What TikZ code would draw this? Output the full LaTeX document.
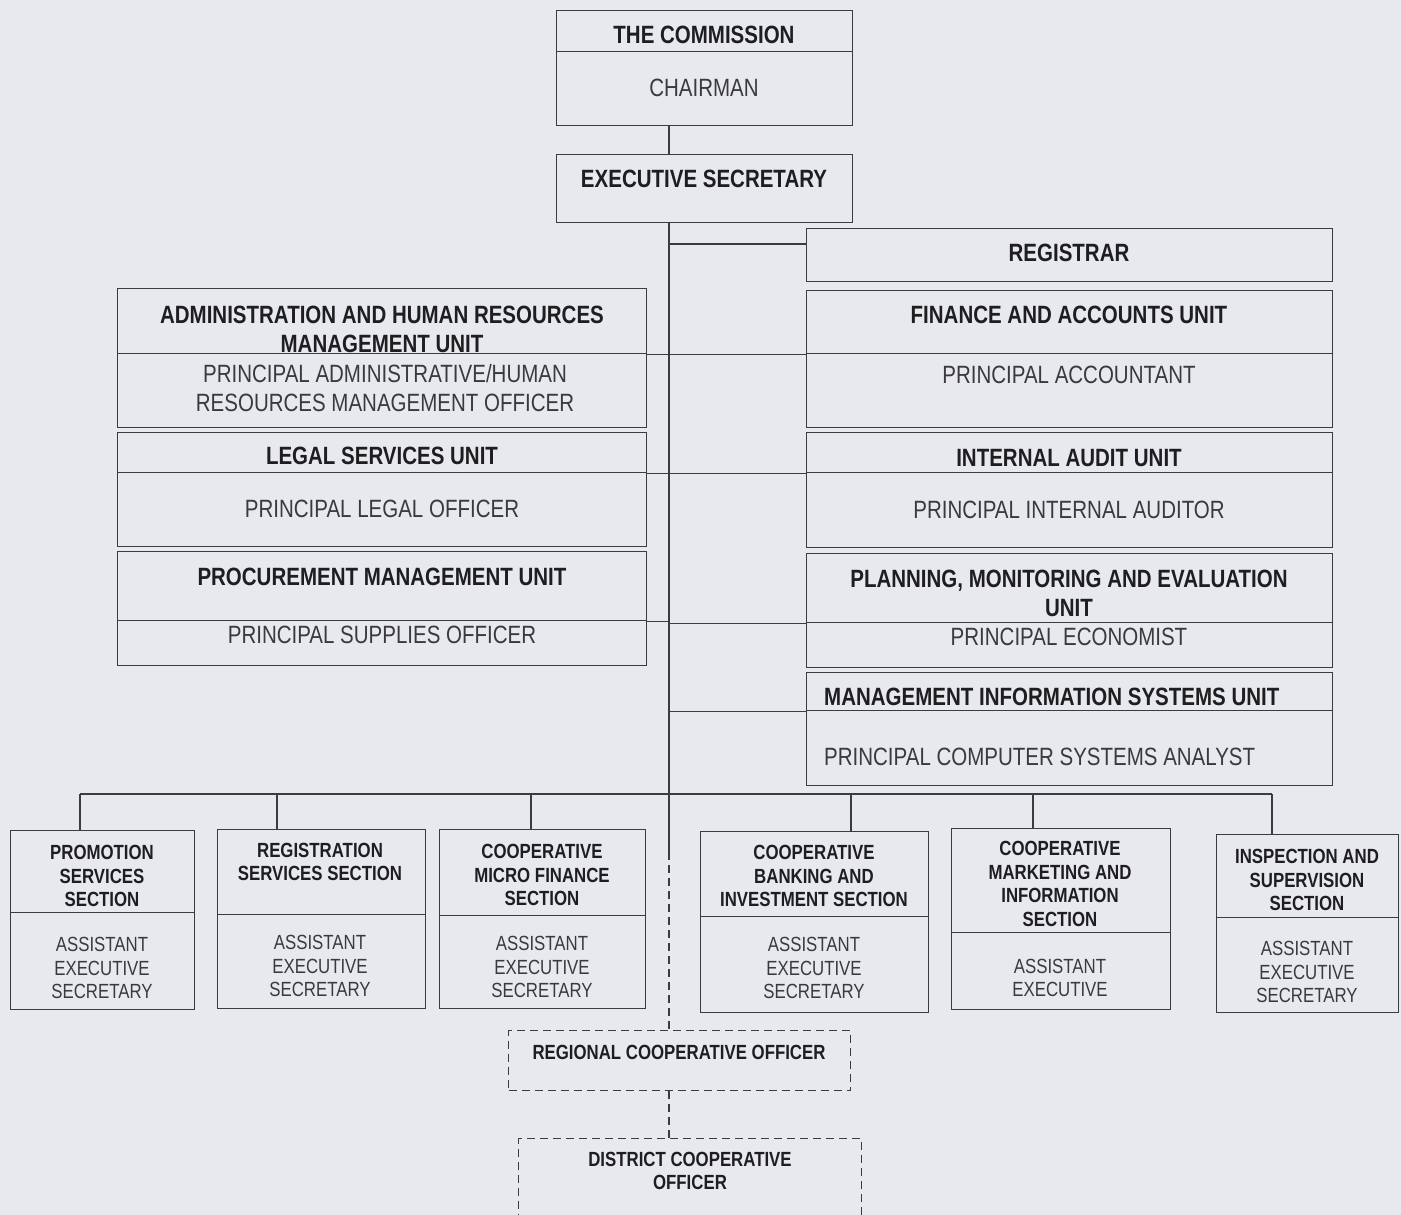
\documentclass[tikz,border=0pt]{standalone}
\usepackage{fontspec}
\setmainfont{Liberation Sans}[FakeStretch=0.82]
\usepackage{xcolor}

\definecolor{paper}{RGB}{232,233,238}
\definecolor{ink}{RGB}{60,60,62}
\definecolor{txt}{RGB}{30,30,32}
\definecolor{txtsoft}{RGB}{58,58,62}

\tikzset{
  box/.style={draw=ink, line width=1.2pt, inner sep=0pt, anchor=north west},
  dbox/.style={box, dash pattern=on 8pt off 5pt},
  link/.style={draw=ink, line width=1.2pt},
  dlink/.style={link, dash pattern=on 8pt off 5pt},
  head/.style={font=\fontsize{25}{29}\selectfont\bfseries, text=txt, align=center, inner sep=0pt},
  post/.style={font=\fontsize{25}{29}\selectfont, text=txtsoft, align=center, inner sep=0pt},
  shead/.style={font=\fontsize{20.5}{23.5}\selectfont\bfseries, text=txt, align=center, inner sep=0pt},
  spost/.style={font=\fontsize{20.5}{23.5}\selectfont, text=txtsoft, align=center, inner sep=0pt}
}

\begin{document}
\begin{tikzpicture}[x=1pt,y=-1pt]
  \useasboundingbox[fill=paper] (0,0) rectangle (1401,1215);

  % top
  \node[box, minimum width=296pt, minimum height=41pt] (comm) at (556,10) {};
  \node[box, minimum width=296pt, minimum height=74pt] (chair) at (556,51) {};
  \node[box, minimum width=296pt, minimum height=68pt] (exec) at (556,154) {};
  \node[head] (commL) at (704,35) {THE COMMISSION};
  \node[post] (chairL) at (704,88) {CHAIRMAN};
  \node[head] (execL) at (704,179) {EXECUTIVE SECRETARY};

  % right column
  \node[box, minimum width=526pt, minimum height=53pt] (reg) at (806,228) {};
  \node[box, minimum width=526pt, minimum height=63pt] (finT) at (806,290) {};
  \node[box, minimum width=526pt, minimum height=74pt] (finP) at (806,353) {};
  \node[box, minimum width=526pt, minimum height=40pt] (audT) at (806,432) {};
  \node[box, minimum width=526pt, minimum height=75pt] (audP) at (806,472) {};
  \node[box, minimum width=526pt, minimum height=69pt] (plnT) at (806,553) {};
  \node[box, minimum width=526pt, minimum height=45pt] (plnP) at (806,622) {};
  \node[box, minimum width=526pt, minimum height=38pt] (misT) at (806,672) {};
  \node[box, minimum width=526pt, minimum height=75pt] (misP) at (806,710) {};
  \node[head] (regL) at (1069,253) {REGISTRAR};
  \node[head] (finTL) at (1069,315) {FINANCE AND ACCOUNTS UNIT};
  \node[post] (finPL) at (1069,375) {PRINCIPAL ACCOUNTANT};
  \node[head] (audTL) at (1069,458) {INTERNAL AUDIT UNIT};
  \node[post] (audPL) at (1069,510) {PRINCIPAL INTERNAL AUDITOR};
  \node[head] (plnTL) at (1069,593) {PLANNING, MONITORING AND EVALUATION\\UNIT};
  \node[post] (plnPL) at (1069,637) {PRINCIPAL ECONOMIST};
  \node[head, anchor=west] (misTL) at (824,697) {MANAGEMENT INFORMATION SYSTEMS UNIT};
  \node[post, anchor=west] (misPL) at (824,757) {PRINCIPAL COMPUTER SYSTEMS ANALYST};

  % left column
  \node[box, minimum width=529pt, minimum height=65pt] (admT) at (117,288) {};
  \node[box, minimum width=529pt, minimum height=74pt] (admP) at (117,353) {};
  \node[box, minimum width=529pt, minimum height=40pt] (legT) at (117,432) {};
  \node[box, minimum width=529pt, minimum height=74pt] (legP) at (117,472) {};
  \node[box, minimum width=529pt, minimum height=69pt] (proT) at (117,551) {};
  \node[box, minimum width=529pt, minimum height=45pt] (proP) at (117,620) {};
  \node[head] (admTL) at (382,329) {ADMINISTRATION AND HUMAN RESOURCES\\MANAGEMENT UNIT};
  \node[post] (admPL) at (385,388) {PRINCIPAL ADMINISTRATIVE/HUMAN\\RESOURCES MANAGEMENT OFFICER};
  \node[head] (legTL) at (382,456) {LEGAL SERVICES UNIT};
  \node[post] (legPL) at (382,509) {PRINCIPAL LEGAL OFFICER};
  \node[head] (proTL) at (382,577) {PROCUREMENT MANAGEMENT UNIT};
  \node[post] (proPL) at (382,635) {PRINCIPAL SUPPLIES OFFICER};

  % sections
  \node[box, minimum width=184pt, minimum height=82pt] (promT) at (10,830) {};
  \node[box, minimum width=184pt, minimum height=97pt] (promP) at (10,912) {};
  \node[box, minimum width=208pt, minimum height=85pt] (regsT) at (217,829) {};
  \node[box, minimum width=208pt, minimum height=94pt] (regsP) at (217,914) {};
  \node[box, minimum width=206pt, minimum height=86pt] (micT) at (439,829) {};
  \node[box, minimum width=206pt, minimum height=93pt] (micP) at (439,915) {};
  \node[box, minimum width=228pt, minimum height=85pt] (bnkT) at (700,831) {};
  \node[box, minimum width=228pt, minimum height=96pt] (bnkP) at (700,916) {};
  \node[box, minimum width=219pt, minimum height=104pt] (mktT) at (951,828) {};
  \node[box, minimum width=219pt, minimum height=77pt] (mktP) at (951,932) {};
  \node[box, minimum width=182pt, minimum height=83pt] (insT) at (1216,834) {};
  \node[box, minimum width=182pt, minimum height=95pt] (insP) at (1216,917) {};
  \node[shead] (promTL) at (102,876) {PROMOTION\\SERVICES\\SECTION};
  \node[spost] (promPL) at (102,968) {ASSISTANT\\EXECUTIVE\\SECRETARY};
  \node[shead] (regsTL) at (320,862) {REGISTRATION\\SERVICES SECTION};
  \node[spost] (regsPL) at (320,966) {ASSISTANT\\EXECUTIVE\\SECRETARY};
  \node[shead] (micTL) at (542,875) {COOPERATIVE\\MICRO FINANCE\\SECTION};
  \node[spost] (micPL) at (542,967) {ASSISTANT\\EXECUTIVE\\SECRETARY};
  \node[shead] (bnkTL) at (814,876) {COOPERATIVE\\BANKING AND\\INVESTMENT SECTION};
  \node[spost] (bnkPL) at (814,968) {ASSISTANT\\EXECUTIVE\\SECRETARY};
  \node[shead] (mktTL) at (1060,884) {COOPERATIVE\\MARKETING AND\\INFORMATION\\SECTION};
  \node[spost] (mktPL) at (1060,978) {ASSISTANT\\EXECUTIVE};
  \node[shead] (insTL) at (1307,880) {INSPECTION AND\\SUPERVISION\\SECTION};
  \node[spost] (insPL) at (1307,972) {ASSISTANT\\EXECUTIVE\\SECRETARY};

  % field offices
  \node[dbox, minimum width=342pt, minimum height=60pt] (rco) at (508,1030) {};
  \node[dbox, minimum width=343pt, minimum height=110pt] (dco) at (518,1138) {};
  \node[shead] (rcoL) at (679,1052) {REGIONAL COOPERATIVE OFFICER};
  \node[shead] (dcoL) at (690,1171) {DISTRICT COOPERATIVE\\OFFICER};

  % spine
  \coordinate (sx) at (669,0);
  \coordinate (sbrk) at (669,852);
  \draw[link] (chair.south -| sx) -- (exec.north -| sx);
  \draw[link] (exec.south -| sx) -- (sbrk);
  \draw[dlink] (sbrk) -- (rco.north -| sbrk);
  \draw[dlink] (rco.south -| sbrk) -- (dco.north -| sbrk);

  % units
  \coordinate (jr) at (669,244);
  \draw[link] (jr) -- (jr -| reg.west);
  \foreach \u in {finT, audT, plnT, misT}
    \draw[link] (\u.south west -| sx) -- (\u.south west);
  \foreach \u in {admT, legT, proT}
    \draw[link] (\u.south east) -- (\u.south east -| sx);

  % section bus
  \coordinate (b1) at (80,794);
  \coordinate (b2) at (277,794);
  \coordinate (b3) at (531,794);
  \coordinate (b4) at (851,794);
  \coordinate (b5) at (1033,794);
  \coordinate (b6) at (1272,794);
  \draw[link] (b1) -- (b6);
  \foreach \b/\s in {b1/promT, b2/regsT, b3/micT, b4/bnkT, b5/mktT, b6/insT}
    \draw[link] (\b) -- (\b |- \s.north);
\end{tikzpicture}
\end{document}
